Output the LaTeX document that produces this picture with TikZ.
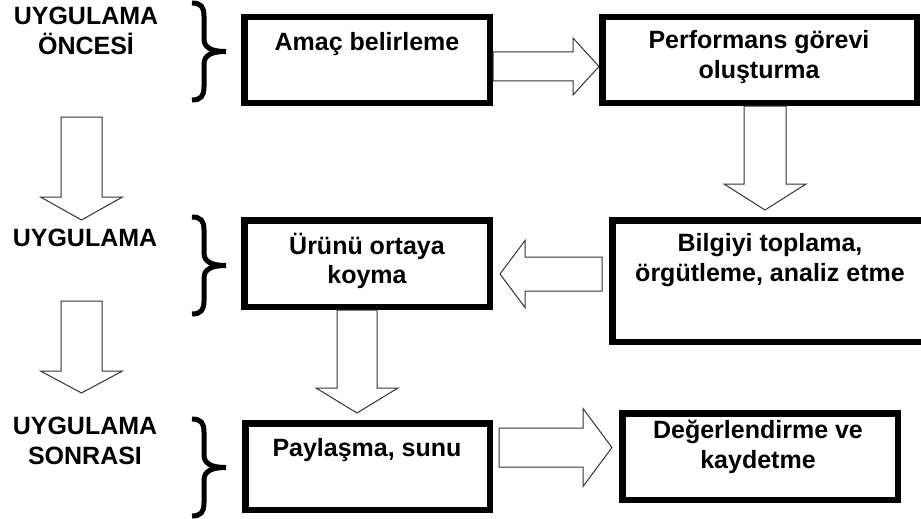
\documentclass[tikz,border=0pt]{standalone}
\usepackage{fontspec}
\setmainfont{Liberation Sans}
\usetikzlibrary{calc}

\tikzset{
  stagebox/.style={draw=black, line width=6.5pt, fill=white, inner sep=0pt},
  txt/.style={font=\fontsize{25}{29.5}\selectfont\bfseries, align=center, inner sep=0pt, text=black},
  hollowarrow/.style={draw=black!80, line width=1pt, fill=white, line join=miter},
  pics/phasebrace/.style={code={
    \draw[line width=5pt, black]
      (0,0) .. controls (9,0) and (12,4) .. (12,13) -- (12,36)
      .. controls (12,45) and (20,48.5) .. (34,48.5)
      .. controls (20,48.5) and (12,52) .. (12,61) -- (12,84)
      .. controls (12,93) and (9,97) .. (0,97);
  }},
}

% hollow block arrow: #1 start, #2 tip, #3 shaft half-width, #4 head half-width, #5 head length
\newcommand{\hollowarr}[5]{%
  \path ($(#2)!#5!(#1)$) coordinate (hb);
  \draw[hollowarrow] ($(#1)!#3!90:(#2)$) -- ($(hb)!#3!90:(#2)$) -- ($(hb)!#4!90:(#2)$)
    -- (#2) -- ($(hb)!#4!-90:(#2)$) -- ($(hb)!#3!-90:(#2)$) -- ($(#1)!#3!-90:(#2)$) -- cycle;
}

\begin{document}
\begin{tikzpicture}[x=1pt, y=-1pt]
  \useasboundingbox (0,0) rectangle (921,519);
  \clip (0,0) rectangle (921,519);

  % phase labels
  \node[txt] (pre)  at (86,31)  {UYGULAMA\\ÖNCESİ};
  \node[txt] (run)  at (85,238) {UYGULAMA};
  \node[txt] (post) at (85,441) {UYGULAMA\\SONRASI};

  % braces
  \pic at (192,3)   {phasebrace};
  \pic at (192,217) {phasebrace};
  \pic at (192,419) {phasebrace};

  % stage boxes
  \node[stagebox, minimum width=245.5pt, minimum height=85.5pt]  (amac)  at (367,60)    {};
  \node[stagebox, minimum width=314.5pt, minimum height=85.5pt]  (perf)  at (759.5,60)  {};
  \node[stagebox, minimum width=319.5pt, minimum height=121.5pt] (bilgi) at (772,281)   {};
  \node[stagebox, minimum width=245.5pt, minimum height=86.5pt]  (urun)  at (367,263.5) {};
  \node[stagebox, minimum width=244.5pt, minimum height=86.5pt]  (payl)  at (367.5,466.5) {};
  \node[stagebox, minimum width=275.5pt, minimum height=86.5pt]  (deger) at (760,456.5) {};

  % stage texts
  \node[txt] (amacT)  at (367,44)   {Amaç belirleme};
  \node[txt] (perfT)  at (759,57)   {Performans görevi\\oluşturma};
  \node[txt] (bilgiT) at (770,260)  {Bilgiyi toplama,\\örgütleme, analiz etme};
  \node[txt] (urunT)  at (367,261)  {Ürünü ortaya\\koyma};
  \node[txt] (paylT)  at (367,450)  {Paylaşma, sunu};
  \node[txt] (degerT) at (758,447)  {Değerlendirme ve\\kaydetme};

  % arrow end points
  \coordinate (r1) at (0,66.5);
  \coordinate (c2) at (765,0);
  \coordinate (c4) at (357,0);
  \coordinate (a2e) at (765,210);
  \coordinate (a3s) at (602,274);
  \coordinate (a3e) at (500,274);
  \coordinate (a4e) at (357,413);
  \coordinate (a5s) at (499,447.5);
  \coordinate (a5e) at (612,447.5);
  \coordinate (l1s) at (81.5,117);
  \coordinate (l1e) at (81.5,220);
  \coordinate (l2s) at (81.5,301);
  \coordinate (l2e) at (81.5,393);

  % flow arrows
  \hollowarr{amac.east |- r1}{perf.west |- r1}{14.5pt}{28.5pt}{26pt}
  \hollowarr{perf.south -| c2}{a2e}{21pt}{41pt}{26pt}
  \hollowarr{a3s}{a3e}{17pt}{33.5pt}{25pt}
  \hollowarr{urun.south -| c4}{a4e}{20pt}{41pt}{25pt}
  \hollowarr{a5s}{a5e}{19.5pt}{39pt}{29pt}
  \hollowarr{l1s}{l1e}{20.5pt}{41pt}{23pt}
  \hollowarr{l2s}{l2e}{20.5pt}{41pt}{22pt}
\end{tikzpicture}
\end{document}
